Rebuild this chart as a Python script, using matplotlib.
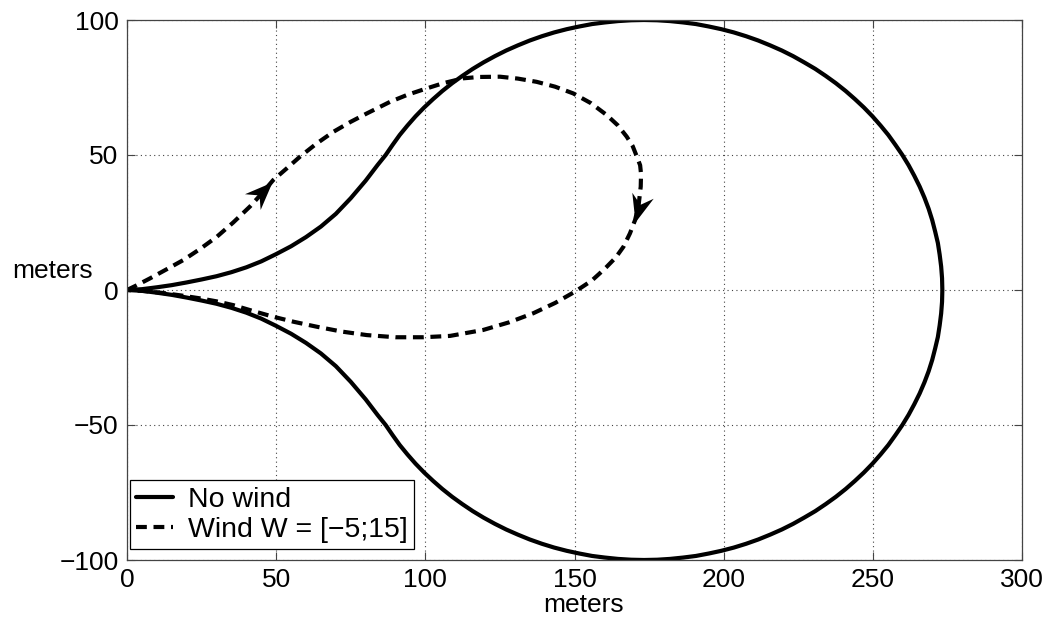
import matplotlib
matplotlib.use("Agg")
import matplotlib.pyplot as plt
from matplotlib.path import Path
from matplotlib.markers import MarkerStyle
from matplotlib.transforms import Affine2D
import numpy as np

# upper half of the no-wind path (lead-in + circle arc)
nowind_x = [0, 5, 10, 15, 20, 25, 30, 35, 40, 45, 50, 55, 60, 65, 70, 75, 80, 84, 86.7,
            89.0, 91.4, 94.0, 96.7, 99.6, 102.6, 105.7, 109.0, 112.4, 115.9, 119.5,
            123.3, 127.1, 131.0, 135.0, 139.1, 143.2, 147.4, 151.6, 155.9, 160.2, 164.6,
            169.0, 173.3, 177.7, 182.0, 186.4, 190.7, 195.0, 199.2, 203.4, 207.5, 211.6,
            215.6, 219.5, 223.3, 227.0, 230.7, 234.2, 237.6, 240.9, 244.0, 247.0, 249.9,
            252.6, 255.2, 257.6, 259.9, 262.0, 263.9, 265.7, 267.3, 268.7, 269.9, 270.9,
            271.8, 272.4, 272.9, 273.2, 273.3]
nowind_y = [0, 0.3, 1.0, 1.8, 2.8, 3.9, 5.1, 6.6, 8.4, 10.6, 13.3, 16.2, 19.6, 23.5, 28.2,
            34.0, 40.5, 46.3, 50.0,
            53.7, 57.4, 60.9, 64.3, 67.6, 70.7, 73.7, 76.6, 79.3, 81.9, 84.3,
            86.6, 88.7, 90.6, 92.4, 94.0, 95.4, 96.6, 97.6, 98.5, 99.1, 99.6,
            99.9, 100.0, 99.9, 99.6, 99.1, 98.5, 97.6, 96.6, 95.4, 94.0, 92.4,
            90.6, 88.7, 86.6, 84.3, 81.9, 79.3, 76.6, 73.7, 70.7, 67.6, 64.3,
            60.9, 57.4, 53.7, 50.0, 46.2, 42.3, 38.3, 34.2, 30.1, 25.9, 21.6,
            17.4, 13.1, 8.7, 4.4, 0.0]

# wind path, full loop
wind_x = [0, 3, 7.7, 13, 18.9, 24.5, 30.1, 35.6, 41.2, 45, 49, 53.5, 58, 63.5, 69.2, 75,
          80.4, 88.2, 94, 100, 106, 112.7, 118, 125, 131, 137.3, 143.5, 149.6, 155.5, 160.8,
          164.5, 167.5, 169.5, 170.9, 172.0, 172.3, 172.2, 171.5, 170.3, 168.6, 166.4,
          163.8, 160.8, 158.3, 155.8, 150.2, 143.5, 136.2, 128, 119.4, 108.3, 99.3, 90,
          80.4, 72, 63.6, 56, 49, 42, 35.6, 30, 24.5, 18, 12, 6, 0]
wind_y = [0, 1.6, 4.3, 7.5, 11.1, 15.2, 19.7, 25.0, 30.9, 35.5, 40.7, 45.0, 49.4, 54.2,
          58.6, 62.3, 65.4, 69.7, 72.3, 74.5, 76.6, 78.4, 78.9, 79.0, 78.3, 77.1, 75.3,
          72.8, 69.2, 64.8, 61.0, 56.8, 53.3, 49.4, 46.2, 43.0, 38.3, 31.5, 25.9, 21.0,
          16.0, 12.0, 8.6, 6.0, 3.5, -0.6, -4.8, -8.6, -12.0, -14.8, -17.0, -17.5, -17.5,
          -16.7, -15.4, -13.6, -11.8, -9.9, -7.7, -5.6, -4.2, -3.1, -2.0, -1.1, -0.4, 0]

# arrow heads: (tip, point behind tip)
arrow_tips = [(48.5, 40.1), (170.3, 25.3)]
arrow_tails = [(35.6, 25.9), (172.0, 32.0)]

x_ticks = [0, 50, 100, 150, 200, 250, 300]
y_ticks = [-100, -50, 0, 50, 100]

plt.rcParams['font.family'] = ['Liberation Sans', 'DejaVu Sans']
fs = 19

fig = plt.figure(figsize=(10.56, 6.26), dpi=100)
ax = fig.add_axes([127 / 1056, 66 / 626, 895 / 1056, 540 / 626])

# full no-wind loop: upper half then mirrored lower half back to start
full_x = nowind_x + nowind_x[::-1]
full_y = nowind_y + [-v for v in nowind_y[::-1]]
ax.plot(full_x, full_y, color='black', lw=3, solid_capstyle='round', label='No wind')
ax.plot(wind_x, wind_y, color='black', lw=3, linestyle=(0, (2.6, 1.6)),
        label='Wind W = [\u22125;15]')

ax.set_xlim(0, 300)
ax.set_ylim(-100, 100)

# stealth-like arrowhead marker with its tip at the origin
head = Path([(0, 0), (-1, 0.4), (-0.66, 0), (-1, -0.4), (0, 0)],
            [Path.MOVETO, Path.LINETO, Path.LINETO, Path.LINETO, Path.CLOSEPOLY])
for tip, tail in zip(arrow_tips, arrow_tails):
    p1 = ax.transData.transform(tail)
    p2 = ax.transData.transform(tip)
    ang = np.degrees(np.arctan2(p2[1] - p1[1], p2[0] - p1[0]))
    m = MarkerStyle(head, transform=Affine2D().rotate_deg(ang))
    ax.plot([tip[0]], [tip[1]], marker=m, markersize=40, color='black',
            markeredgewidth=0, linestyle='none')

ax.set_xticks(x_ticks)
ax.set_yticks(y_ticks)
ax.grid(True, color='#444444', linestyle=(0, (1, 3)), lw=0.8)
ax.tick_params(direction='in', length=6, width=0.8, color='#444444',
               top=True, right=True, labelsize=fs, pad=6)
for s in ax.spines.values():
    s.set_color('#444444')
    s.set_linewidth(0.9)

ax.set_xlabel('meters', fontsize=fs)
ax.xaxis.set_label_coords(0.51, -0.083)
ax.xaxis.label.set_va('center')
ax.set_ylabel('meters', fontsize=fs, rotation=0, ha='center', va='center')
ax.yaxis.set_label_coords(-0.083, 0.535)

leg = ax.legend(loc='lower left', bbox_to_anchor=(0.0034, 0.02), borderaxespad=0,
                fontsize=20.5, fancybox=False, edgecolor='black', framealpha=1,
                handlelength=1.3, handletextpad=0.5, borderpad=0.22,
                labelspacing=0.15)
leg.get_frame().set_linewidth(0.9)

fig.savefig('out.png', dpi=100)
